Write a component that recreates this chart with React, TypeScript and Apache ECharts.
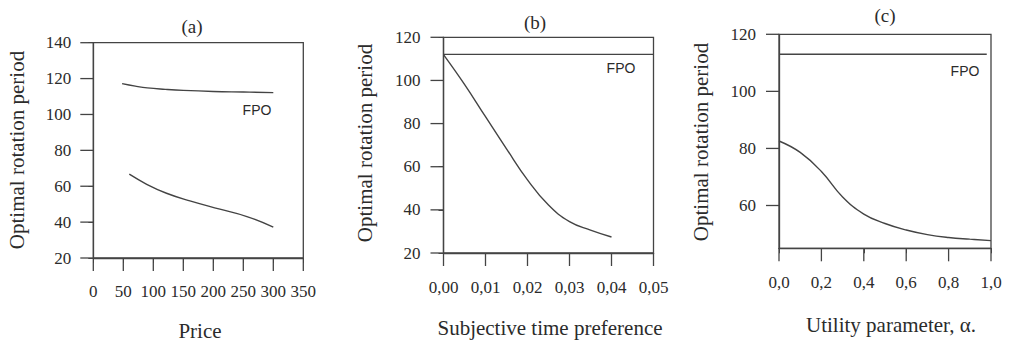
import React, { useEffect, useRef } from "react";
import * as echarts from "echarts";

const panelTitles = ["(a)", "(b)", "(c)"];
const xNames = ["Price", "Subjective time preference", "Utility parameter, α."];
const yName = "Optimal rotation period";
const fpoLabel = "FPO";

// tick values
const priceTicks = [0, 50, 100, 150, 200, 250, 300, 350];
const periodTicksA = [20, 40, 60, 80, 100, 120, 140];
const stpTicks = [0, 0.01, 0.02, 0.03, 0.04, 0.05];
const periodTicksB = [20, 40, 60, 80, 100, 120];
const alphaTicks = [0, 0.2, 0.4, 0.6, 0.8, 1.0];
const periodTicksC = [60, 80, 100, 120];

// (a) Price
const priceFpoX = [48, 70, 90, 120, 150, 200, 250, 300];
const priceFpoY = [117.2, 115.8, 114.8, 114.0, 113.4, 112.8, 112.5, 112.2];
const priceOptX = [60, 89, 122, 161, 211, 256, 300];
const priceOptY = [66.7, 61.1, 56.1, 51.8, 47.2, 43.1, 37.2];

// (b) Subjective time preference
const stpFpoX = [0, 0.05];
const stpFpoY = [112.1, 112.1];
const stpOptX = [0, 0.005, 0.01, 0.015, 0.02, 0.025, 0.03, 0.035, 0.04];
const stpOptY = [112, 98.2, 83.2, 68.3, 53.9, 42.2, 34.5, 30.6, 27.4];

// (c) Utility parameter
const alphaFpoX = [0, 0.98];
const alphaFpoY = [113, 113];
const alphaOptX = [0, 0.1, 0.2, 0.3, 0.4, 0.5, 0.6, 0.7, 0.8, 0.9, 1.0];
const alphaOptY = [82.6, 78.6, 71.9, 63.0, 57.0, 53.7, 51.4, 49.8, 48.8, 48.2, 47.7];

const zip = (xs: number[], ys: number[]) => xs.map((x, i) => [x, ys[i]]);

const LINE = "#444";
const TEXT = "#2b2b2b";
const SERIF = "Liberation Serif";
const SANS = "Liberation Sans";
const TICK = 13;

function lineSeries(idx: number, data: any[]) {
  return {
    type: "line",
    xAxisIndex: idx,
    yAxisIndex: idx,
    data,
    symbol: "none",
    smooth: 0.45,
    lineStyle: { color: LINE, width: 1.4 },
  };
}

function txt(x: number, y: number, text: string, size: number, family = SERIF, rotation = 0) {
  return {
    type: "text",
    x,
    y,
    rotation,
    z: 100,
    style: {
      text,
      x: 0,
      y: 0,
      fill: TEXT,
      font: `${size}px "${family}"`,
      fontSize: size,
      fontFamily: family,
      textAlign: "center",
      textVerticalAlign: "middle",
      align: "center",
      verticalAlign: "middle",
    },
  };
}

const aLine = { show: true, onZero: false, lineStyle: { color: LINE, width: 1.3 } };

function axis(gridIndex: number, min: number, max: number, ticks: number[], margin: number, formatter?: (v: number) => string) {
  return {
    type: "value",
    gridIndex,
    min,
    max,
    axisLine: aLine,
    splitLine: { show: false },
    axisTick: { show: true },
    axisLabel: {
      customValues: ticks,
      fontSize: 17,
      fontFamily: SERIF,
      margin,
      color: TEXT,
      showMinLabel: true,
      showMaxLabel: true,
      ...(formatter ? { formatter } : {}),
    },
  };
}

const panels = [
  { xMin: 0, yMin: 20, xTicks: priceTicks, yTicks: periodTicksA },
  { xMin: 0, yMin: 20, xTicks: stpTicks, yTicks: periodTicksB },
  { xMin: 0, yMin: 45, xTicks: alphaTicks, yTicks: periodTicksC },
];

export default function App() {
  const ref = useRef<HTMLDivElement>(null);
  useEffect(() => {
    document.body.style.margin = "0";
    if (!ref.current) return;
    const chart = echarts.init(ref.current, undefined, { renderer: "svg" });
    const box = { show: true, borderColor: LINE, borderWidth: 1.3 };
    const comma = (d: number) => (v: number) => v.toFixed(d).replace(".", ",");
    chart.setOption({
      animation: false,
      backgroundColor: "#fff",
      grid: [
        { ...box, left: 93.3, top: 42.7, width: 210, height: 215.3 },
        { ...box, left: 443.5, top: 37.3, width: 210, height: 215.7 },
        { ...box, left: 779, top: 34.3, width: 212, height: 214 },
      ],
      xAxis: [
        { ...axis(0, 0, 350, priceTicks, 25), interval: 50 },
        { ...axis(1, 0, 0.05, stpTicks, 26, comma(2)), interval: 0.01 },
        { ...axis(2, 0, 1, alphaTicks, 26, comma(1)), interval: 0.2 },
      ],
      yAxis: [
        { ...axis(0, 20, 140, periodTicksA, 22), interval: 20 },
        { ...axis(1, 20, 120, periodTicksB, 23), interval: 20 },
        { ...axis(2, 45, 120, periodTicksC, 23), axisTick: { show: false } },
      ],
      series: [
        lineSeries(0, zip(priceFpoX, priceFpoY)),
        lineSeries(0, zip(priceOptX, priceOptY)),
        lineSeries(1, zip(stpFpoX, stpFpoY)),
        lineSeries(1, zip(stpOptX, stpOptY)),
        lineSeries(2, zip(alphaFpoX, alphaFpoY)),
        lineSeries(2, zip(alphaOptX, alphaOptY)),
      ],
    });

    // outward tick marks, placed through each panel's own scales
    const toPx = (gi: number, pair: number[]): number[] | null => {
      let pt: any = null;
      try {
        pt = chart.convertToPixel({ xAxisIndex: gi, yAxisIndex: gi } as any, pair);
      } catch (e) {
        pt = null;
      }
      if (!pt || !isFinite(pt[0])) {
        try {
          pt = chart.convertToPixel({ seriesIndex: gi * 2 } as any, pair);
        } catch (e) {
          pt = null;
        }
      }
      return pt && isFinite(pt[0]) && isFinite(pt[1]) ? pt : null;
    };
    const tickLines: any[] = [];
    panels.forEach((p, gi) => {
      p.xTicks.forEach((v) => {
        const pt = toPx(gi, [v, p.yMin]);
        if (!pt) return;
        tickLines.push({
          type: "line",
          z: 100,
          shape: { x1: pt[0], y1: pt[1], x2: pt[0], y2: pt[1] + TICK },
          style: { stroke: LINE, lineWidth: 1.3, fill: null },
        });
      });
      p.yTicks.forEach((v) => {
        const pt = toPx(gi, [p.xMin, v]);
        if (!pt) return;
        tickLines.push({
          type: "line",
          z: 100,
          shape: { x1: pt[0], y1: pt[1], x2: pt[0] - TICK, y2: pt[1] },
          style: { stroke: LINE, lineWidth: 1.3, fill: null },
        });
      });
    });

    chart.setOption({
      graphic: [
        txt(192, 26, panelTitles[0], 19),
        txt(535, 22, panelTitles[1], 19),
        txt(885, 15, panelTitles[2], 19),
        txt(17, 150, yName, 21, SERIF, Math.PI / 2),
        txt(365, 143, yName, 21, SERIF, Math.PI / 2),
        txt(701, 142, yName, 21, SERIF, Math.PI / 2),
        txt(200, 331, xNames[0], 21),
        txt(550, 328, xNames[1], 21),
        txt(891, 325, xNames[2], 21),
        txt(257, 110, fpoLabel, 14, SANS),
        txt(621, 67.5, fpoLabel, 14, SANS),
        txt(965, 71, fpoLabel, 14, SANS),
        ...tickLines,
      ],
    });
    return () => chart.dispose();
  }, []);
  return (
    <div
      ref={ref}
      style={{ position: "absolute", left: 0, top: 0, width: 1011, height: 342 }}
    />
  );
}
